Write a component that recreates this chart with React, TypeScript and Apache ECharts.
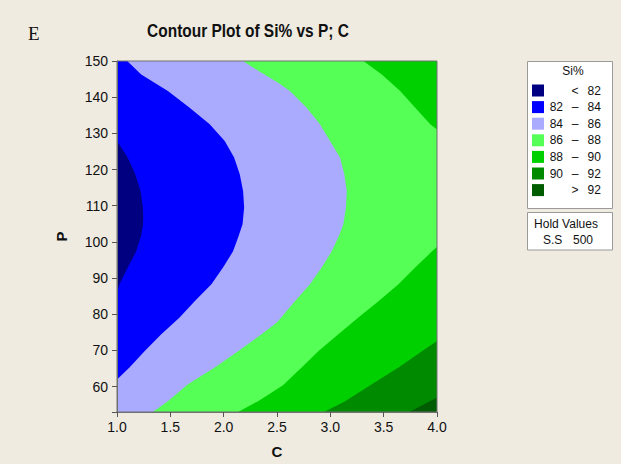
import React, { useEffect, useRef } from "react";
import * as echarts from "echarts";

// Axis ranges
const cMin = 1;
const cMax = 4;
const pMin = 53;
const pMax = 150;

// Legend / band definitions
const bandColors = ["#000080", "#0000ff", "#aaaaff", "#55ff55", "#00d000", "#008a00", "#005c00"];
const legendLo = ["", "82", "84", "86", "88", "90", ""];
const legendSym = ["<", "–", "–", "–", "–", "–", ">"];
const legendHi = ["82", "84", "86", "88", "90", "92", "92"];
const legendTitle = "Si%";
const holdTitle = "Hold Values";
const holdName = "S.S";
const holdValue = "500";

// Contour boundaries, [C, P]
const b82: number[][] = [
  [1, 127.9], [1.1, 123.3], [1.171, 118.7], [1.221, 114.1], [1.242, 109.5], [1.246, 107.0],
  [1.244, 104.9], [1.227, 101.8], [1.18, 97.4], [1.101, 92.9], [1.023, 88.3], [1, 86.0],
];
const b84: number[][] = [
  [1.096, 150], [1.227, 146.3], [1.477, 141.7], [1.681, 137.1], [1.869, 132.5], [2.01, 127.9],
  [2.098, 123.3], [2.151, 118.7], [2.182, 114.1], [2.192, 109.5], [2.177, 104.9], [2.142, 101.8],
  [2.088, 97.4], [1.994, 92.9], [1.885, 88.3], [1.728, 83.6], [1.587, 79.1], [1.415, 74.5],
  [1.258, 69.8], [1.117, 65.3], [1, 62.0],
];
const b86: number[][] = [
  [2.182, 150], [2.339, 147.0], [2.511, 144.0], [2.621, 141.7], [2.778, 137.1], [2.903, 132.5],
  [2.997, 127.9], [3.091, 123.3], [3.131, 118.7], [3.154, 114.1], [3.147, 109.5], [3.122, 104.9],
  [3.082, 101.8], [3.013, 97.4], [2.919, 92.9], [2.809, 88.3], [2.668, 83.6], [2.499, 77.7],
  [2.355, 74.5], [2.135, 69.8], [1.916, 65.3], [1.665, 60.7], [1.477, 56.0], [1.336, 53.0],
];
const b88Top: number[][] = [
  [3.31, 150], [3.483, 146.3], [3.655, 141.7], [3.796, 137.1], [3.937, 132.5], [4, 131.1],
];
const b88Bottom: number[][] = [
  [4, 98.6], [3.953, 97.4], [3.796, 92.9], [3.639, 88.3], [3.451, 83.6], [3.263, 79.1],
  [3.075, 74.5], [2.887, 69.8], [2.731, 65.3], [2.556, 60.4], [2.323, 56.0], [2.135, 53.0],
];
const b90: number[][] = [
  [4, 72.6], [3.859, 69.8], [3.639, 65.3], [3.389, 60.7], [3.138, 56.0], [2.941, 53.0],
];
const b92: number[][] = [
  [4, 57.0], [3.87, 55.0], [3.74, 53.0],
];

// High-side polygons, painted in order from the lowest band upward
const polygons: { band: number; pts: number[][] }[] = [
  { band: 0, pts: [[cMin, pMin], [cMax, pMin], [cMax, pMax], [cMin, pMax]] },
  { band: 1, pts: [...b82, [cMin, pMin], [cMax, pMin], [cMax, pMax], [cMin, pMax]] },
  { band: 2, pts: [...b84, [cMin, pMin], [cMax, pMin], [cMax, pMax]] },
  { band: 3, pts: [...b86, [cMax, pMin], [cMax, pMax]] },
  { band: 4, pts: [...b88Top, [cMax, pMax]] },
  { band: 4, pts: [...b88Bottom, [cMax, pMin]] },
  { band: 5, pts: [...b90, [cMax, pMin]] },
  { band: 6, pts: [...b92, [cMax, pMin]] },
];

const FONT = "Liberation Sans";
const TXT = "#111111";

function buildGraphic() {
  const els: any[] = [];
  els.push({
    type: "text", x: 28, y: 33,
    style: { text: "E", font: "19px 'Liberation Serif'", fill: "#111", textVerticalAlign: "middle" },
  });
  els.push({
    type: "text", x: 248, y: 31, scaleX: 0.86,
    style: {
      text: "Contour Plot of Si% vs P; C", font: "bold 18px 'Liberation Sans'", fill: "#111",
      textAlign: "center", textVerticalAlign: "middle",
    },
  });
  // legend box
  els.push({
    type: "rect", shape: { x: 527.5, y: 61.5, width: 85, height: 147 },
    style: { fill: "#ffffff", stroke: "#9a9a9a", lineWidth: 1 },
  });
  els.push({
    type: "text", x: 573, y: 71,
    style: { text: legendTitle, font: `12px '${FONT}'`, fill: TXT, textAlign: "center", textVerticalAlign: "middle" },
  });
  bandColors.forEach((col, i) => {
    const cy = 90.5 + i * 16.6;
    els.push({
      type: "rect", shape: { x: 532, y: cy - 6, width: 12, height: 12 },
      style: { fill: col },
    });
    if (legendLo[i]) {
      els.push({
        type: "text", x: 563, y: cy,
        style: { text: legendLo[i], font: `12px '${FONT}'`, fill: TXT, textAlign: "right", textVerticalAlign: "middle" },
      });
    }
    els.push({
      type: "text", x: 575, y: cy,
      style: { text: legendSym[i], font: `12px '${FONT}'`, fill: TXT, textAlign: "center", textVerticalAlign: "middle" },
    });
    els.push({
      type: "text", x: 587.5, y: cy,
      style: { text: legendHi[i], font: `12px '${FONT}'`, fill: TXT, textAlign: "left", textVerticalAlign: "middle" },
    });
  });
  // hold values box
  els.push({
    type: "rect", shape: { x: 527.5, y: 212.5, width: 85, height: 37.5 },
    style: { fill: "#ffffff", stroke: "#9a9a9a", lineWidth: 1 },
  });
  els.push({
    type: "text", x: 566, y: 223.5,
    style: { text: holdTitle, font: `12px '${FONT}'`, fill: TXT, textAlign: "center", textVerticalAlign: "middle" },
  });
  els.push({
    type: "text", x: 543, y: 240,
    style: { text: holdName, font: `12px '${FONT}'`, fill: TXT, textAlign: "left", textVerticalAlign: "middle" },
  });
  els.push({
    type: "text", x: 573, y: 240,
    style: { text: holdValue, font: `12px '${FONT}'`, fill: TXT, textAlign: "left", textVerticalAlign: "middle" },
  });
  return els;
}

export default function App() {
  const ref = useRef<HTMLDivElement>(null);
  useEffect(() => {
    if (!ref.current) return;
    const chart = echarts.init(ref.current, null, { renderer: "svg" });
    chart.setOption({
      animation: false,
      backgroundColor: "#efebe1",
      grid: {
        left: 117, top: 61, right: 184, bottom: 51,
        show: true, borderColor: "#707070", borderWidth: 1, backgroundColor: "transparent", z: 5,
      },
      xAxis: {
        type: "value", min: cMin, max: cMax, interval: 0.5, z: 6,
        name: "C", nameLocation: "middle", nameGap: 32,
        nameTextStyle: { fontFamily: FONT, fontWeight: "bold", fontSize: 15, color: TXT },
        axisLine: { show: true, lineStyle: { color: "#707070", width: 1 } },
        axisTick: { show: true, length: 5, inside: false, lineStyle: { color: "#555" } },
        axisLabel: {
          fontFamily: FONT, fontSize: 14, color: TXT, margin: 8,
          formatter: (v: number) => v.toFixed(1),
        },
        splitLine: { show: false },
      },
      yAxis: {
        type: "value", min: pMin, max: pMax, splitNumber: 10, z: 6,
        name: "P", nameLocation: "middle", nameGap: 48,
        nameTextStyle: { fontFamily: FONT, fontWeight: "bold", fontSize: 15, color: TXT },
        axisLine: { show: true, lineStyle: { color: "#707070", width: 1 } },
        axisTick: { show: true, length: 5, inside: false, lineStyle: { color: "#555" } },
        axisLabel: {
          fontFamily: FONT, fontSize: 14, color: TXT, margin: 9,
          formatter: (v: number) => (v % 10 === 0 ? String(v) : ""),
        },
        splitLine: { show: false },
      },
      series: [
        {
          type: "custom",
          z: 1,
          silent: true,
          clip: true,
          data: polygons.map((p, i) => [cMin, pMin, i]),
          renderItem: (params: any, api: any) => {
            const poly = polygons[params.dataIndex];
            return {
              type: "polygon",
              shape: { points: poly.pts.map((pt) => api.coord(pt)) },
              style: { fill: bandColors[poly.band] },
            };
          },
        },
      ],
      graphic: buildGraphic(),
    });
    return () => chart.dispose();
  }, []);
  return (
    <div
      ref={ref}
      style={{ position: "fixed", left: 0, top: 0, width: 621, height: 464 }}
    />
  );
}
